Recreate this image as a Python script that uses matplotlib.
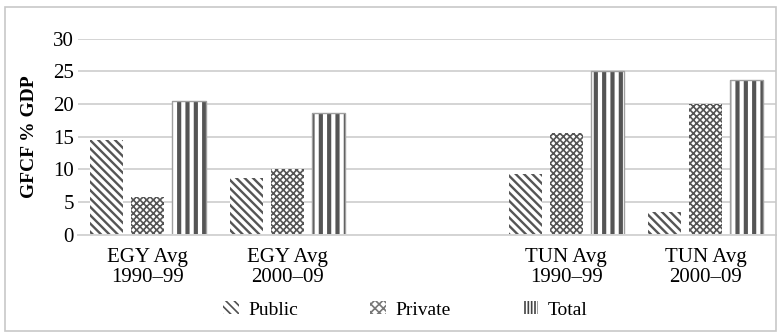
import matplotlib.pyplot as plt
import numpy as np
from matplotlib.patches import Rectangle, Patch

# GFCF as share of GDP, period averages
categories = ["EGY Avg\n1990\u201399", "EGY Avg\n2000\u201309", "", "TUN Avg\n1990\u201399", "TUN Avg\n2000\u201309"]
public = [14.5, 8.6, np.nan, 9.3, 3.5]
private = [5.8, 10.0, np.nan, 15.6, 20.0]
total = [20.4, 18.6, np.nan, 25.0, 23.6]

plt.rcParams['font.family'] = ['Liberation Serif', 'DejaVu Serif']

fig = plt.figure(figsize=(7.81, 3.35), dpi=100)
ax = fig.add_axes([0.100, 0.30, 0.893, 0.585])

x = np.arange(len(categories))
w = 0.237
off = 0.295
hatch_col = '#555555'

plt.rcParams['hatch.linewidth'] = 1.7
ax.bar(x - off, public, w, color='white', edgecolor=hatch_col, linewidth=0,
       hatch='\\\\\\\\')
plt.rcParams['hatch.linewidth'] = 1.2
ax.bar(x, private, w, color='white', edgecolor=hatch_col, linewidth=0,
       hatch='xxxxx')
plt.rcParams['hatch.linewidth'] = 3.0
ax.bar(x + off, total, w, color='white', edgecolor=hatch_col, linewidth=0,
       hatch='||')
# light outline on the total bars
ax.bar(x + off, total, w, color='none', edgecolor='#a0a0a0', linewidth=1.0)

ax.set_xlim(-0.5, len(categories) - 0.5)
ax.set_ylim(0, 30)
ax.set_yticks(range(0, 31, 5))
ax.set_xticks(x)
ax.set_xticklabels(categories, fontsize=15, linespacing=1.05)
ax.tick_params(axis='y', labelsize=15, length=0, pad=3)
ax.tick_params(axis='x', length=0, pad=10)
ax.grid(axis='y', color='#d4d4d4', linewidth=1.4)
ax.set_axisbelow(True)
for s in ['top', 'right', 'left']:
    ax.spines[s].set_visible(False)
ax.spines['bottom'].set_color('#d4d4d4')
ax.spines['bottom'].set_linewidth(1.4)

ax.set_ylabel("GFCF % GDP", fontsize=14, fontweight='bold', labelpad=11)

# small legend keys with thinner hatching
plt.rcParams['hatch.linewidth'] = 1.2
h_pub = Patch(facecolor='white', edgecolor='#505050', linewidth=0, hatch='\\\\\\\\')
h_pri = Patch(facecolor='white', edgecolor='#777777', linewidth=0, hatch='xxxx')
h_tot = Patch(facecolor='white', edgecolor='#444444', linewidth=0, hatch='|||||')
fig.legend([h_pub, h_pri, h_tot], ['Public', 'Private', 'Total'], loc='center',
           bbox_to_anchor=(0.519, 0.075), ncol=3, frameon=False, fontsize=14,
           handlelength=0.8, handleheight=0.65, columnspacing=3.7, handletextpad=0.5)

# outer border around the chart
fig.patches.append(Rectangle((0.006, 0.012), 0.988, 0.966, transform=fig.transFigure,
                             fill=False, edgecolor='#c8c8c8', linewidth=1.2))

fig.savefig("out.png", dpi=100)
